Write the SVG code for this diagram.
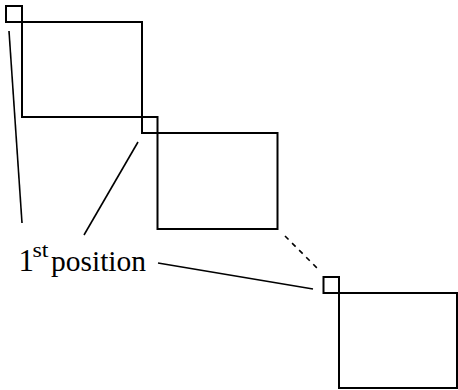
<svg xmlns="http://www.w3.org/2000/svg" width="458" height="390" viewBox="0 0 458 390">
<style>
.box{fill:none;stroke:#000;stroke-width:2}
.lead{fill:none;stroke:#000;stroke-width:1.6}
.dot{fill:none;stroke:#000;stroke-width:1.6;stroke-dasharray:5 5}
text{font-family:"Liberation Serif","Times New Roman",serif;fill:#000}
</style>
<rect width="458" height="390" fill="#fff"/>
<g id="sq1"><rect class="box" x="6" y="6" width="16" height="16"/></g>
<g id="rect1"><rect class="box" x="22" y="22" width="120" height="95"/></g>
<g id="sq2"><rect class="box" x="142" y="117" width="15.5" height="16"/></g>
<g id="rect2"><rect class="box" x="157.5" y="133" width="120" height="96"/></g>
<g id="sq3"><rect class="box" x="323.5" y="277" width="15.5" height="16"/></g>
<g id="rect3"><rect class="box" x="339" y="293" width="118" height="95"/></g>
<g id="connectors">
<line class="lead" x1="9" y1="31" x2="22" y2="223"/>
<line class="lead" x1="84" y1="235" x2="138" y2="142"/>
<line class="lead" x1="158" y1="263" x2="313" y2="289"/>
<line class="dot" x1="285" y1="236" x2="319" y2="270"/>
</g>
<g id="label">
<text x="18.5" y="271" font-size="31">1</text>
<text x="32.5" y="256.5" font-size="20" textLength="16" lengthAdjust="spacingAndGlyphs">st</text>
<text x="51" y="271" font-size="29" textLength="95" lengthAdjust="spacingAndGlyphs">position</text>
</g>
</svg>
